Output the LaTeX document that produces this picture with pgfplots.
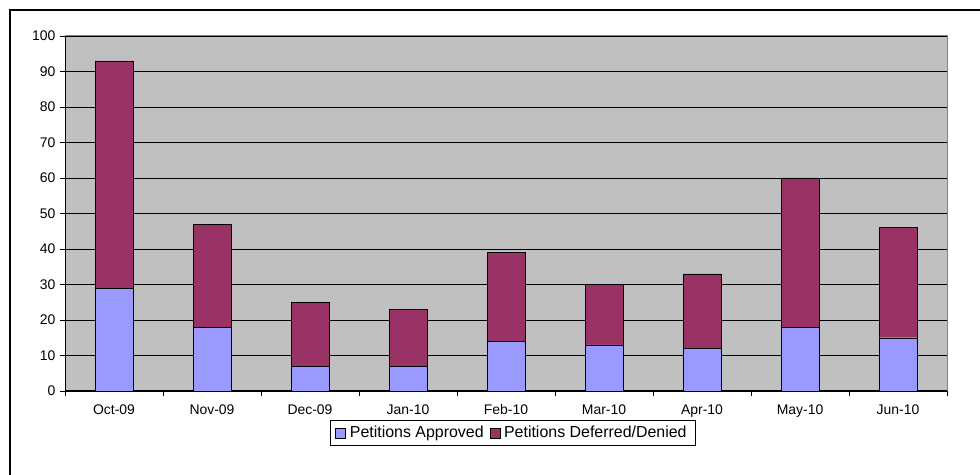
\documentclass[border=0pt]{standalone}
\usepackage{pgfplots}
\pgfplotsset{compat=1.18}
\usepackage{fontspec}
\setmainfont{Liberation Sans}
\definecolor{appr}{HTML}{9999FF}
\definecolor{deny}{HTML}{993366}
\definecolor{plotbg}{HTML}{C0C0C0}
\begin{document}
\begin{tikzpicture}[x=1bp,y=1bp]
\useasboundingbox (0,0) rectangle (980,475);
\draw[line width=1.5bp] (10,-5) -- (10,465) -- (990,465);
\begin{axis}[
  at={(65bp,84bp)}, anchor=south west,
  scale only axis, width=882bp, height=355bp,
  ybar stacked, bar width=38bp,
  xmin=-0.5, xmax=8.5, ymin=0, ymax=100,
  ytick={0,10,...,100},
  xtick={-0.5,0.5,...,8.5},
  x tick label as interval,
  xticklabels={Oct-09,Nov-09,Dec-09,Jan-10,Feb-10,Mar-10,Apr-10,May-10,Jun-10},
  xtick pos=bottom, ytick pos=left,
  tick align=outside,
  major tick length=5bp,
  tick style={black, thin},
  ymajorgrids, xmajorgrids=false, grid style={black, thin},
  axis background/.style={fill=plotbg},
  axis line style={draw=gray, line width=1bp},
  tick label style={font=\fontsize{14}{16}\selectfont},
  yticklabel style={xshift=-1bp},
  /pgf/number format/assume math mode=true,
  xticklabel style={yshift=-5bp},
  legend columns=2,
  legend style={at={(0.508,-0.118)}, anchor=center, draw=black, thin,
    font=\fontsize{16}{18}\selectfont, inner xsep=5bp, inner ysep=4bp,
    nodes={inner xsep=4bp},
    /tikz/every even column/.append style={column sep=2bp}},
  legend image code/.code={\draw[#1, draw=black] (0bp,-5bp) rectangle (10bp,5bp);},
]
\addplot[fill=appr, draw=black, thin] coordinates {(0,29) (1,18) (2,7) (3,7) (4,14) (5,13) (6,12) (7,18) (8,15)};
\addplot[fill=deny, draw=black, thin] coordinates {(0,64) (1,29) (2,18) (3,16) (4,25) (5,17) (6,21) (7,42) (8,31)};
\legend{Petitions Approved, Petitions Deferred/Denied}
\draw[black, line width=1bp] (rel axis cs:0,1) -- (rel axis cs:0,0) -- (rel axis cs:1,0);
\end{axis}
\end{tikzpicture}
\end{document}
